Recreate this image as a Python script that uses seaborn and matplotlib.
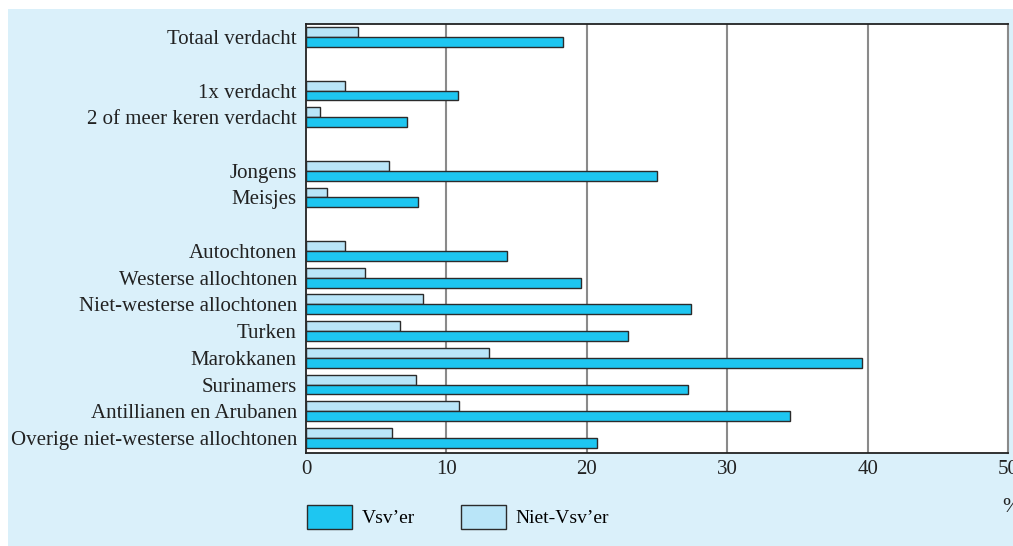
"""Horizontal grouped bar chart: verdachten onder Vsv'ers en niet-Vsv'ers."""

import matplotlib

matplotlib.use("Agg")

import matplotlib.pyplot as plt
import pandas as pd
import seaborn as sns
from matplotlib.patches import Patch, Rectangle

groups = [
    "Totaal verdacht",
    "1x verdacht",
    "2 of meer keren verdacht",
    "Jongens",
    "Meisjes",
    "Autochtonen",
    "Westerse allochtonen",
    "Niet-westerse allochtonen",
    "Turken",
    "Marokkanen",
    "Surinamers",
    "Antillianen en Arubanen",
    "Overige niet-westerse allochtonen",
]
vsv = [18.3, 10.8, 7.2, 25.0, 8.0, 14.3, 19.6, 27.4, 22.9, 39.6, 27.2, 34.5, 20.7]
niet_vsv = [3.7, 2.8, 1.0, 5.9, 1.5, 2.8, 4.2, 8.3, 6.7, 13.0, 7.8, 10.9, 6.1]
x_ticks = [0, 10, 20, 30, 40, 50]

# row order with empty spacer rows between the blocks
row_order = [groups[0], " ", groups[1], groups[2], "  ", groups[3], groups[4], "   "] + groups[5:]

VSV_LABEL = "Vsv\u2019er"
NIET_LABEL = "Niet-Vsv\u2019er"
VSV_COLOR = "#1ec6f1"
NIET_COLOR = "#b9e5f8"
PANEL = "#daf0fa"
EDGE = "#2b2b2b"
FONT_SIZE = 15

df = pd.DataFrame(
    {
        "group": groups * 2,
        "value": niet_vsv + vsv,
        "series": [NIET_LABEL] * len(groups) + [VSV_LABEL] * len(groups),
    }
)

plt.rcParams["font.family"] = ["Liberation Serif", "DejaVu Serif"]
plt.rcParams["font.size"] = FONT_SIZE

fig = plt.figure(figsize=(10.13, 5.46), dpi=100, facecolor="white")
fig.patches.append(
    Rectangle((8 / 1013, 0), 1, 1 - 9 / 546, transform=fig.transFigure,
              facecolor=PANEL, edgecolor="none", zorder=-10)
)
ax = fig.add_axes([306 / 1013, 1 - 453 / 546, 702 / 1013, 429 / 546])
ax.set_zorder(1)
ax.set_facecolor("white")

sns.barplot(
    data=df, y="group", x="value", hue="series", order=row_order,
    hue_order=[NIET_LABEL, VSV_LABEL],
    palette={NIET_LABEL: NIET_COLOR, VSV_LABEL: VSV_COLOR},
    saturation=1, orient="h", width=0.74, edgecolor=EDGE, linewidth=1.0,
    legend=False, ax=ax, zorder=3,
)

ax.set_xlim(0, 50)
ax.set_ylim(len(row_order) - 0.44, -0.49)
ax.set_xticks(x_ticks)
ax.set_xticklabels([str(t) for t in x_ticks])
for t in x_ticks[1:-1]:
    ax.axvline(t, color="#8a8a8a", linewidth=1.5, zorder=1)
ax.set_xlabel("")
ax.set_ylabel("")
ax.tick_params(axis="both", length=0, colors="#222222", labelsize=FONT_SIZE)
ax.tick_params(axis="x", pad=5)
ax.tick_params(axis="y", pad=6.5)

for side in ["top", "left", "bottom"]:
    ax.spines[side].set_color("#222222")
    ax.spines[side].set_linewidth(1.3)
ax.spines["right"].set_color("#8a8a8a")
ax.spines["right"].set_linewidth(1.5)

handles = [
    Patch(facecolor=VSV_COLOR, edgecolor=EDGE, label=VSV_LABEL),
    Patch(facecolor=NIET_COLOR, edgecolor=EDGE, label=NIET_LABEL),
]
fig.legend(
    handles=handles, loc="upper left", bbox_to_anchor=(307 / 1013, 1 - 505 / 546),
    ncol=2, frameon=False, handlelength=2.3, handleheight=1.5,
    handletextpad=0.5, columnspacing=2.4, borderpad=0, borderaxespad=0,
    fontsize=14,
)
fig.text(1002 / 1013, 1 - 508 / 546, "%", ha="left", va="center",
         fontsize=FONT_SIZE, color="#222222")

fig.savefig("out.png", dpi=100, facecolor=fig.get_facecolor())
